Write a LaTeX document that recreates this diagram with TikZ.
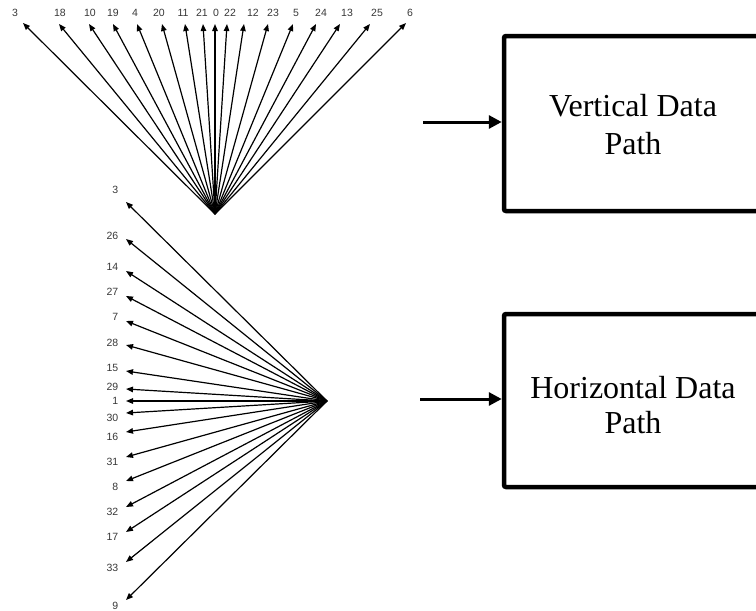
\documentclass[tikz,border=0pt]{standalone}
\usepackage{fontspec}
\setmainfont{Liberation Serif}
\newfontfamily\labelfont{Liberation Sans}
\usetikzlibrary{arrows.meta}
\definecolor{labelgray}{RGB}{55,55,55}
\begin{document}
\begin{tikzpicture}[x=1pt,y=-1pt,
  fanline/.style={line width=1.2pt,-{Triangle[length=7pt,width=5.5pt]}},
  idx/.style={font=\labelfont\fontsize{10.5}{11}\selectfont,text=labelgray,inner sep=0pt},
  pathbox/.style={draw,line width=4.5pt,rounded corners=2pt,minimum width=258pt,inner sep=0pt},
  feed/.style={line width=3pt,-{Triangle[length=13pt,width=13pt]}},
  boxtext/.style={font=\fontsize{32}{32}\selectfont,inner sep=0pt,anchor=base}]
\clip (0,0) rectangle (756,611);

% vertical fan: index arrows pointing up
\coordinate (vroot) at (215,214);
\foreach \n/\tx/\ty/\lx in {3/23/23/15, 18/59/24/60, 10/89/24/90, 19/113/24/113,
    4/137/24/135, 20/162/24/159, 11/185/24/183, 21/203/24/202, 0/215/24/216,
    22/227/24/230, 12/244/24/253, 23/268/24/273, 5/293/24/296, 24/316/24/321,
    13/340/24/347, 25/370/24/377, 6/406/23/410} {
  \coordinate (vt\n) at (\tx,\ty);
  \node[idx] (vl\n) at (\lx,13) {\n};
  \draw[fanline] (vroot) -- (vt\n);
}

% horizontal fan: index arrows pointing left
\coordinate (hroot) at (327,401);
\foreach \n/\ty/\ly in {3/202/190, 26/239/236, 14/271/267, 27/296/292, 7/321/317,
    28/345/343, 15/371/368, 29/389/387, 1/401/401, 30/413/418, 16/432/437,
    31/457/462, 8/481/487, 32/507/512, 17/532/537, 33/562/568, 9/600/606} {
  \coordinate (ht\n) at (126,\ty);
  \node[idx,anchor=east] (hl\n) at (118.5,\ly) {\n};
  \draw[fanline] (hroot) -- (ht\n);
}

% data path blocks
\node[pathbox,minimum height=175pt] (vbox) at (633,123.5) {};
\node[boxtext] (vtxtA) at (633,116) {Vertical Data};
\node[boxtext] (vtxtB) at (633,154) {Path};
\coordinate (vin) at (423,122);
\draw[feed] (vin) -- (vin -| vbox.west);

\node[pathbox,minimum height=173pt] (hbox) at (633,400.5) {};
\node[boxtext] (htxtA) at (633,398) {Horizontal Data};
\node[boxtext] (htxtB) at (633,433) {Path};
\coordinate (hin) at (420,399);
\draw[feed] (hin) -- (hin -| hbox.west);
\end{tikzpicture}
\end{document}
